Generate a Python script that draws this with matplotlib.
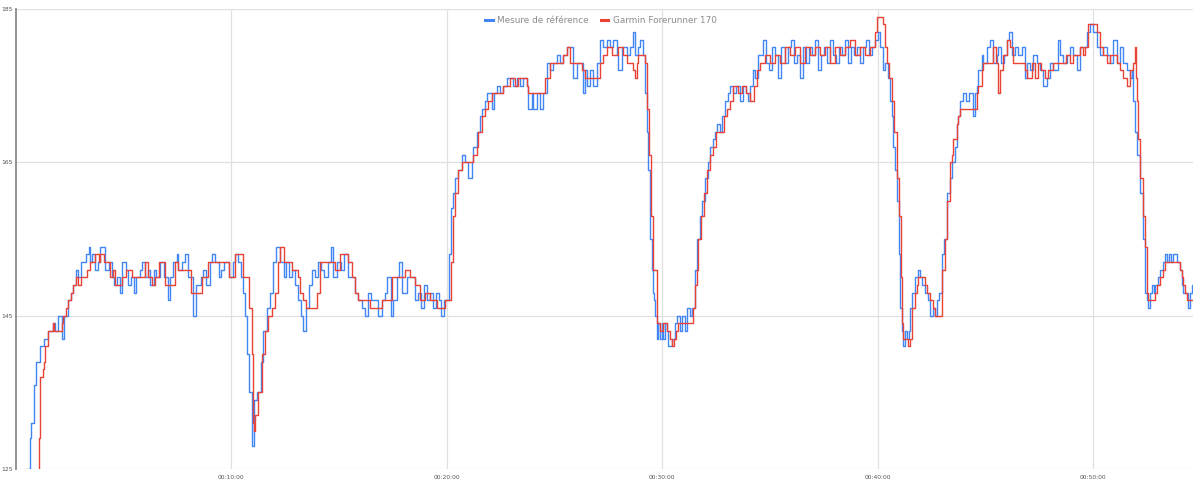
import matplotlib
matplotlib.use("Agg")
import matplotlib.pyplot as plt
from matplotlib.ticker import FuncFormatter, FixedLocator

# Heart rate (bpm) vs elapsed time (s)
ref_t = [24, 32, 38, 43, 49, 57, 68, 79, 90, 102, 110, 118, 127, 135, 146, 154, 160, 168, 174, 180,
         188, 196, 202, 207, 213, 221, 227, 235, 244, 249, 258, 266, 274, 282, 291, 296, 305, 313, 321, 330,
         335, 344, 352, 360, 369, 374, 383, 391, 402, 411, 422, 430, 438, 447, 452, 463, 472, 480, 494, 502,
         514, 522, 530, 539, 547, 555, 564, 572, 580, 592, 603, 611, 619, 628, 633, 639, 644, 650, 656, 658,
         664, 672, 681, 689, 700, 708, 717, 725, 731, 736, 745, 753, 761, 770, 778, 786, 795, 800, 809, 817,
         825, 834, 842, 850, 859, 870, 878, 884, 895, 906, 914, 926, 937, 945, 953, 965, 973, 981, 990, 998,
         1009, 1020, 1029, 1034, 1043, 1051, 1062, 1068, 1076, 1081, 1090, 1104, 1112, 1120, 1129, 1137, 1146, 1154, 1162, 1171,
         1179, 1185, 1193, 1201, 1207, 1212, 1218, 1223, 1232, 1243, 1251, 1260, 1271, 1274, 1285, 1293, 1299, 1307, 1313, 1321,
         1327, 1332, 1340, 1349, 1357, 1368, 1377, 1385, 1396, 1404, 1413, 1424, 1427, 1438, 1441, 1452, 1460, 1469, 1480, 1488,
         1496, 1507, 1516, 1524, 1535, 1544, 1552, 1563, 1572, 1580, 1585, 1591, 1599, 1608, 1619, 1627, 1636, 1647, 1655, 1663,
         1674, 1677, 1688, 1702, 1711, 1719, 1725, 1733, 1739, 1747, 1752, 1758, 1761, 1766, 1772, 1775, 1777, 1780, 1786, 1789,
         1794, 1800, 1803, 1808, 1814, 1816, 1828, 1836, 1842, 1850, 1855, 1864, 1869, 1878, 1883, 1892, 1897, 1906, 1911, 1919,
         1928, 1933, 1942, 1947, 1953, 1961, 1967, 1975, 1984, 1989, 1997, 2006, 2017, 2025, 2034, 2039, 2045, 2053, 2059, 2067,
         2073, 2081, 2089, 2098, 2106, 2114, 2123, 2131, 2142, 2151, 2159, 2167, 2176, 2184, 2192, 2201, 2209, 2217, 2226, 2234,
         2242, 2251, 2259, 2268, 2276, 2284, 2293, 2301, 2309, 2318, 2326, 2334, 2343, 2351, 2359, 2368, 2376, 2384, 2393, 2401,
         2407, 2415, 2421, 2429, 2435, 2440, 2443, 2448, 2454, 2460, 2462, 2468, 2471, 2476, 2482, 2487, 2490, 2496, 2504, 2512,
         2518, 2524, 2532, 2540, 2546, 2554, 2560, 2565, 2571, 2579, 2585, 2593, 2602, 2607, 2615, 2621, 2624, 2629, 2638, 2646,
         2654, 2666, 2671, 2677, 2680, 2691, 2693, 2705, 2713, 2721, 2732, 2735, 2744, 2752, 2760, 2766, 2774, 2782, 2791, 2802,
         2810, 2816, 2824, 2833, 2844, 2852, 2861, 2872, 2880, 2888, 2902, 2908, 2916, 2927, 2936, 2944, 2955, 2964, 2972, 2983,
         2991, 3000, 3011, 3019, 3028, 3039, 3047, 3055, 3066, 3075, 3083, 3094, 3103, 3108, 3111, 3117, 3122, 3131, 3139, 3144,
         3150, 3153, 3158, 3164, 3169, 3172, 3181, 3186, 3195, 3200, 3206, 3211, 3217, 3222, 3228, 3234, 3242, 3247, 3250, 3259,
         3264, 3270, 3275, 3278]
ref_bpm = [118, 125, 129, 131, 136, 139, 141, 142, 143, 144, 143, 145, 142, 145, 147, 148, 149, 151, 150, 152,
           152, 153, 154, 152, 153, 151, 152, 154, 154, 151, 152, 150, 149, 150, 148, 152, 151, 149, 150, 148,
           150, 151, 152, 150, 151, 149, 151, 150, 152, 150, 147, 150, 152, 153, 151, 152, 153, 150, 145, 149,
           150, 151, 149, 152, 153, 152, 150, 151, 152, 150, 152, 153, 152, 150, 148, 145, 140, 135, 130, 128,
           134, 135, 139, 143, 146, 148, 152, 154, 154, 152, 150, 152, 150, 151, 149, 147, 145, 143, 146, 149,
           151, 150, 152, 151, 150, 152, 154, 150, 152, 151, 153, 150, 150, 148, 147, 146, 145, 148, 147, 147,
           145, 147, 148, 150, 145, 147, 150, 152, 148, 148, 150, 150, 147, 148, 146, 149, 147, 148, 146, 148,
           147, 145, 147, 147, 153, 159, 161, 163, 164, 166, 165, 163, 165, 167, 169, 171, 172, 173, 174, 174,
           172, 174, 175, 174, 175, 176, 176, 175, 176, 175, 176, 175, 172, 174, 172, 174, 172, 174, 178, 177,
           178, 179, 178, 179, 180, 180, 176, 178, 178, 174, 177, 175, 177, 175, 178, 181, 180, 181, 180, 181,
           179, 177, 180, 179, 180, 182, 179, 180, 181, 179, 174, 169, 164, 155, 151, 148, 147, 145, 142, 144,
           142, 144, 142, 144, 143, 141, 142, 144, 145, 143, 145, 143, 146, 145, 146, 151, 155, 158, 160, 163,
           165, 167, 168, 169, 170, 169, 171, 173, 174, 175, 174, 175, 173, 175, 174, 173, 175, 177, 176, 179,
           179, 181, 178, 177, 180, 179, 176, 180, 178, 180, 181, 178, 179, 176, 180, 178, 180, 179, 181, 177,
           179, 180, 178, 181, 179, 178, 180, 179, 181, 178, 180, 179, 180, 178, 180, 181, 179, 180, 181, 182,
           180, 177, 178, 176, 173, 171, 167, 164, 160, 153, 146, 143, 141, 143, 142, 143, 146, 148, 150, 151,
           150, 149, 148, 147, 145, 146, 145, 147, 148, 153, 155, 161, 163, 165, 167, 170, 171, 173, 174, 173,
           174, 171, 174, 175, 177, 179, 178, 180, 181, 178, 179, 180, 178, 179, 181, 182, 179, 180, 179, 180,
           176, 178, 177, 179, 178, 177, 175, 176, 178, 177, 181, 179, 178, 179, 180, 179, 177, 180, 180, 182,
           183, 182, 180, 179, 180, 179, 178, 181, 178, 180, 178, 177, 176, 177, 173, 169, 166, 161, 155, 148,
           147, 146, 148, 149, 148, 149, 150, 151, 152, 153, 152, 153, 152, 153, 153, 152, 151, 149, 148, 148,
           146, 148, 149, 148]

garmin_t = [49, 60, 63, 68, 74, 77, 82, 88, 90, 102, 107, 118, 127, 132, 138, 146, 152, 160, 166, 174,
            180, 188, 199, 207, 213, 221, 230, 235, 244, 263, 271, 277, 296, 305, 324, 360, 369, 380, 388, 397,
            416, 444, 450, 486, 519, 536, 555, 592, 611, 631, 644, 650, 656, 661, 664, 667, 675, 686, 694, 703,
            714, 722, 731, 736, 745, 770, 784, 792, 800, 809, 834, 839, 848, 889, 903, 926, 937, 945, 953, 987,
            1020, 1048, 1070, 1084, 1098, 1112, 1126, 1140, 1154, 1173, 1196, 1207, 1212, 1218, 1223, 1232, 1243, 1265, 1274, 1285,
            1288, 1299, 1307, 1315, 1327, 1357, 1377, 1390, 1399, 1424, 1427, 1474, 1488, 1524, 1535, 1544, 1572, 1577, 1585, 1619,
            1627, 1636, 1647, 1661, 1677, 1691, 1702, 1719, 1725, 1730, 1733, 1747, 1752, 1758, 1764, 1769, 1775, 1783, 1786, 1794,
            1803, 1814, 1822, 1828, 1833, 1839, 1844, 1883, 1886, 1892, 1897, 1900, 1908, 1917, 1925, 1933, 1942, 1950, 1961, 1972,
            1981, 1989, 1997, 2011, 2023, 2034, 2045, 2056, 2064, 2073, 2086, 2100, 2114, 2128, 2142, 2156, 2170, 2184, 2198, 2212,
            2226, 2240, 2254, 2268, 2281, 2295, 2309, 2323, 2337, 2351, 2365, 2379, 2393, 2398, 2407, 2415, 2421, 2426, 2432, 2440,
            2446, 2454, 2460, 2465, 2468, 2471, 2485, 2490, 2496, 2504, 2510, 2512, 2526, 2532, 2538, 2546, 2554, 2560, 2577, 2579,
            2588, 2593, 2602, 2607, 2610, 2621, 2624, 2629, 2671, 2677, 2680, 2691, 2693, 2713, 2721, 2730, 2735, 2741, 2749, 2760,
            2769, 2777, 2802, 2810, 2816, 2830, 2838, 2847, 2855, 2866, 2874, 2888, 2916, 2924, 2936, 2944, 2964, 2972, 2977, 2986,
            3005, 3011, 3019, 3028, 3039, 3047, 3066, 3075, 3083, 3094, 3103, 3111, 3117, 3119, 3122, 3125, 3131, 3139, 3144, 3150,
            3153, 3167, 3172, 3178, 3186, 3195, 3200, 3234, 3242, 3247, 3250, 3256, 3261, 3278]
garmin_bpm = [118, 125, 129, 137, 138, 139, 141, 142, 143, 144, 143, 143, 144, 145, 146, 147, 148, 149, 150, 149,
              150, 150, 151, 152, 152, 153, 152, 153, 152, 150, 151, 149, 150, 151, 150, 152, 150, 149, 150, 152,
              149, 152, 151, 148, 150, 152, 152, 150, 153, 150, 150, 146, 140, 131, 130, 132, 135, 140, 143, 145,
              146, 148, 152, 154, 152, 151, 150, 148, 147, 146, 146, 148, 152, 151, 153, 152, 150, 148, 147, 146,
              147, 150, 150, 151, 150, 149, 147, 148, 147, 146, 147, 147, 152, 158, 161, 164, 165, 165, 166, 167,
              169, 171, 172, 173, 174, 175, 176, 175, 176, 175, 174, 176, 178, 179, 180, 178, 178, 177, 176, 176,
              178, 179, 180, 179, 180, 179, 178, 177, 176, 178, 179, 179, 178, 172, 166, 158, 151, 151, 144, 143,
              144, 143, 142, 141, 142, 143, 144, 144, 146, 149, 151, 155, 158, 161, 164, 166, 167, 169, 169, 171,
              172, 173, 175, 174, 175, 174, 173, 175, 177, 178, 179, 178, 179, 178, 180, 179, 180, 178, 180, 179,
              180, 179, 180, 178, 180, 179, 180, 181, 179, 180, 179, 180, 182, 184, 184, 183, 180, 178, 176, 173,
              169, 163, 158, 150, 144, 142, 141, 142, 146, 148, 149, 150, 150, 149, 148, 147, 146, 145, 145, 151,
              155, 160, 165, 166, 168, 170, 171, 172, 172, 174, 175, 177, 178, 178, 180, 178, 174, 177, 179, 181,
              180, 178, 178, 177, 176, 178, 176, 178, 177, 176, 177, 178, 178, 179, 178, 179, 180, 179, 180, 183,
              183, 182, 180, 179, 178, 179, 178, 177, 176, 175, 177, 178, 180, 176, 173, 168, 163, 158, 154, 148,
              147, 147, 148, 149, 150, 151, 152, 152, 151, 150, 149, 148, 147, 147]

series_names = ["Mesure de référence", "Garmin Forerunner 170"]
series_colors = ["#4285F4", "#EA4335"]

y_ticks = [125, 145, 165, 185]
x_ticks = [600, 1200, 1800, 2400, 3000]


def hms(sec, pos=None):
    sec = int(round(sec))
    return "%02d:%02d:%02d" % (sec // 3600, (sec % 3600) // 60, sec % 60)


fig = plt.figure(figsize=(12, 4.83), dpi=100)
ax = fig.add_axes([16 / 1200, 1 - 469 / 483, (1193 - 16) / 1200, 460 / 483])

ax.plot(ref_t, ref_bpm, drawstyle="steps-post", color=series_colors[0], lw=1.0,
        label=series_names[0], zorder=3)
ax.plot(garmin_t, garmin_bpm, drawstyle="steps-post", color=series_colors[1], lw=1.0,
        label=series_names[1], zorder=4)

ax.set_xlim(0, 3278)
ax.set_ylim(125, 185)
ax.yaxis.set_major_locator(FixedLocator(y_ticks))
ax.xaxis.set_major_locator(FixedLocator(x_ticks))
ax.xaxis.set_major_formatter(FuncFormatter(hms))
ax.grid(True, color="#e0e0e0", lw=0.9)
ax.set_axisbelow(True)

for s in ["top", "right", "bottom"]:
    ax.spines[s].set_visible(False)
ax.spines["left"].set_color("#8a8a8a")
ax.spines["left"].set_linewidth(1.3)
ax.spines["left"].set_zorder(5)
ax.tick_params(axis="both", length=0, labelsize=4.3, colors="#555555")
ax.tick_params(axis="y", pad=2.5)
ax.tick_params(axis="x", pad=4)

leg = ax.legend(loc="upper center", bbox_to_anchor=(0.497, 1.0), ncol=2, frameon=False,
                fontsize=6.4, handlelength=0.8, handletextpad=0.5, columnspacing=1.4,
                borderaxespad=0.35)
for h in leg.get_lines():
    h.set_linewidth(2.2)
for t in leg.get_texts():
    t.set_color("#8c8c8c")

fig.savefig("out.png", dpi=100, facecolor="white")
